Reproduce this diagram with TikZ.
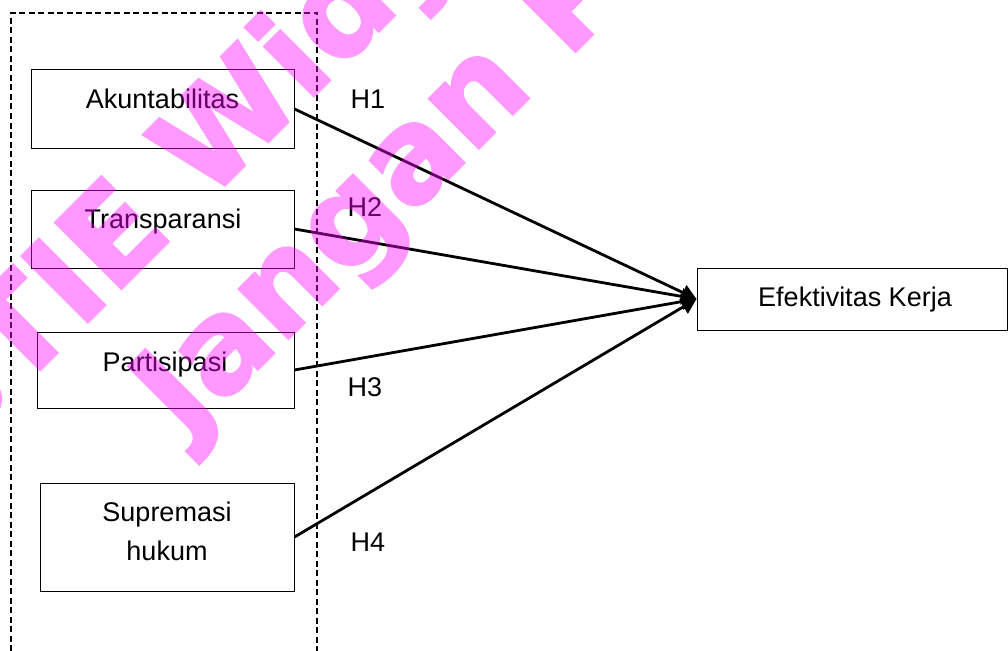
\documentclass[tikz,border=0pt]{standalone}
\usepackage{fontspec}
\setmainfont{Liberation Sans}
\newfontfamily\wmfont[BoldFeatures={FakeBold=2}]{DejaVu Sans}
\usetikzlibrary{arrows.meta}
\definecolor{wmmag}{RGB}{255,0,255}
\begin{document}
\begin{tikzpicture}[x=1pt,y=-1pt,
  box/.style={draw, line width=1pt, inner sep=0pt},
  lbl/.style={font=\fontsize{27}{31}\selectfont, inner sep=0pt, anchor=base},
  conn/.style={line width=2.8pt, -{Triangle[length=15pt,width=16pt]}},
  grp/.style={line width=1.3pt, dash pattern=on 6pt off 3.5pt},
  wm/.style={font=\fontsize{128}{128}\wmfont\bfseries, text=wmmag, rotate=45, anchor=base west, inner sep=0pt}]
\useasboundingbox (0,0) rectangle (1008,650);
\clip (0,0) rectangle (1008,650);
% group frame
\draw[grp] (11,670) -- (11,13) -- (317,13) -- (317,670);
% boxes
\node[box, minimum width=263pt, minimum height=78pt] (ak) at (162.5,109) {};
\node[box, minimum width=263pt, minimum height=78pt] (tr) at (162.5,229) {};
\node[box, minimum width=257pt, minimum height=76pt] (pa) at (165.5,370) {};
\node[box, minimum width=254pt, minimum height=108pt] (su) at (167,537) {};
\node[box, minimum width=310pt, minimum height=62pt] (ef) at (852,299) {};
% texts
\node[lbl] (tak) at (162.5,109) {Akuntabilitas};
\node[lbl] (ttr) at (163,228) {Transparansi};
\node[lbl] (tpa) at (165,371) {Partisipasi};
\node[lbl] (tsu1) at (167,521) {Supremasi};
\node[lbl] (tsu2) at (167,560) {hukum};
\node[lbl] (tef) at (855,306) {Efektivitas Kerja};
\node[lbl] (h1) at (368,109) {H1};
\node[lbl] (h2) at (365,216) {H2};
\node[lbl] (h3) at (365,396) {H3};
\node[lbl] (h4) at (368,551) {H4};
% connectors
\draw[conn] (ak.east) -- (ef.west);
\draw[conn] (tr.east) -- (ef.west);
\draw[conn] (pa.east) -- (ef.west);
\draw[conn] (su.east) -- (ef.west);
% watermark
\begin{scope}[transparency group, opacity=0.4]
\node[wm] (wm1) at (-47.5,457.5) {STIE Widya Wiwaha};
\node[wm] (wm2) at (186,441) {Jangan Plagiat};
\end{scope}
\end{tikzpicture}
\end{document}
